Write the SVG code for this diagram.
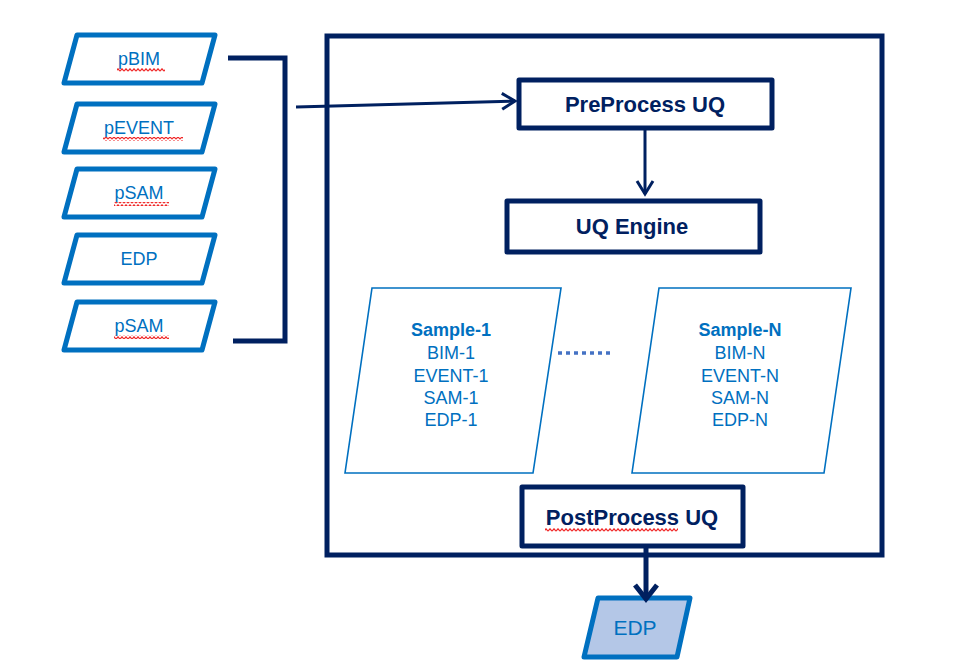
<svg xmlns="http://www.w3.org/2000/svg" width="974" height="672" viewBox="0 0 974 672">
<style>
.in{fill:#fff;stroke:#0070C0;stroke-width:5;stroke-linejoin:round}
.lbl{font-family:"Liberation Sans",Arial,sans-serif;font-size:18px;fill:#0070C0;text-anchor:middle}
.box{fill:#fff;stroke:#002060;stroke-width:5;stroke-linejoin:round}
.bt{font-family:"Liberation Sans",Arial,sans-serif;font-size:22px;font-weight:bold;fill:#002060;text-anchor:middle}
.smp{fill:#fff;stroke:#0070C0;stroke-width:1.6}
.st{font-family:"Liberation Sans",Arial,sans-serif;font-size:18px;fill:#0070C0;text-anchor:middle}
.con{fill:none;stroke:#002060}
.sq{fill:url(#squig)}
</style>
<defs>
<pattern id="squig" width="4" height="4" patternUnits="userSpaceOnUse">
<path d="M0,3.2 L2,0.8 L4,3.2" fill="none" stroke="#F02828" stroke-width="1.2"/>
</pattern>
<marker id="ah" markerUnits="userSpaceOnUse" markerWidth="20" markerHeight="20" viewBox="-16 -10 20 20" refX="0" refY="0" orient="auto">
<path d="M-13,-8 L0,0 L-13,8" fill="none" stroke="#002060" stroke-width="3"/>
</marker>
<marker id="ahb" markerUnits="userSpaceOnUse" markerWidth="30" markerHeight="30" viewBox="-20 -15 25 30" refX="0" refY="0" orient="auto">
<path d="M-14,-11 L0,0 L-14,11" fill="none" stroke="#002060" stroke-width="5"/>
</marker>
</defs>
<rect width="974" height="672" fill="#fff"/>

<g id="outer-box">
<rect x="327" y="36" width="555" height="519" fill="none" stroke="#002060" stroke-width="5"/>
</g>

<g id="in-pBIM">
<polygon class="in" points="77,35 215,35 202,83 64,83"/>
<text class="lbl" x="139" y="65">pBIM</text>
<rect class="sq" x="117" y="68" width="48" height="4"/>
</g>
<g id="in-pEVENT">
<polygon class="in" points="77,104 215,104 202,152 64,152"/>
<text class="lbl" x="139" y="134">pEVENT</text>
<rect class="sq" x="103" y="137" width="80" height="4"/>
</g>
<g id="in-pSAM">
<polygon class="in" points="77,169 215,169 202,217 64,217"/>
<text class="lbl" x="139" y="199">pSAM</text>
<rect class="sq" x="114" y="202" width="55" height="4"/>
</g>
<g id="in-EDP">
<polygon class="in" points="77,235 215,235 202,283 64,283"/>
<text class="lbl" x="139" y="265">EDP</text>
</g>
<g id="in-pSAM2">
<polygon class="in" points="77,302 215,302 202,350 64,350"/>
<text class="lbl" x="139" y="332">pSAM</text>
<rect class="sq" x="114" y="335" width="55" height="4"/>
</g>

<g id="preprocess">
<rect class="box" x="519" y="80" width="253" height="48"/>
<text class="bt" x="645" y="112">PreProcess UQ</text>
</g>
<g id="uq-engine">
<rect class="box" x="507" y="201" width="253" height="51"/>
<text class="bt" x="632" y="234">UQ Engine</text>
</g>
<g id="sample-1">
<polygon class="smp" points="372,288 561,288 533,473 345,473"/>
<text class="st" x="451" y="336" font-weight="bold">Sample-1</text>
<text class="st" x="451" y="359">BIM-1</text>
<text class="st" x="451" y="382">EVENT-1</text>
<text class="st" x="451" y="404">SAM-1</text>
<text class="st" x="451" y="426">EDP-1</text>
</g>
<g id="sample-N">
<polygon class="smp" points="659,288 851,288 824,473 632,473"/>
<text class="st" x="740" y="336" font-weight="bold">Sample-N</text>
<text class="st" x="740" y="359">BIM-N</text>
<text class="st" x="740" y="382">EVENT-N</text>
<text class="st" x="740" y="404">SAM-N</text>
<text class="st" x="740" y="426">EDP-N</text>
</g>
<g id="dots">
<line x1="558" y1="353" x2="614" y2="353" stroke="#4472C4" stroke-width="3.5" stroke-dasharray="4 4"/>
</g>
<g id="postprocess">
<rect class="box" x="522" y="487" width="221" height="59"/>
<text class="bt" x="632" y="525">PostProcess UQ</text>
<rect class="sq" x="545" y="528" width="133" height="4"/>
</g>
<g id="out-EDP">
<polygon points="598,598 690,598 677,657 584,657" fill="#B4C7E7" stroke="#0070C0" stroke-width="5" stroke-linejoin="round"/>
<text x="635" y="635" font-family="Liberation Sans,Arial,sans-serif" font-size="21" fill="#0070C0" text-anchor="middle">EDP</text>
</g>

<g id="connectors">
<polyline class="con" stroke-width="5" points="228,58 285,58 285,341 233,341"/>
<line class="con" stroke-width="3" x1="296" y1="107" x2="515" y2="101" marker-end="url(#ah)"/>
<line class="con" stroke-width="3" x1="645" y1="129" x2="645" y2="194" marker-end="url(#ah)"/>
<line class="con" stroke-width="5" x1="646" y1="548" x2="646" y2="599" marker-end="url(#ahb)"/>
</g>
</svg>
